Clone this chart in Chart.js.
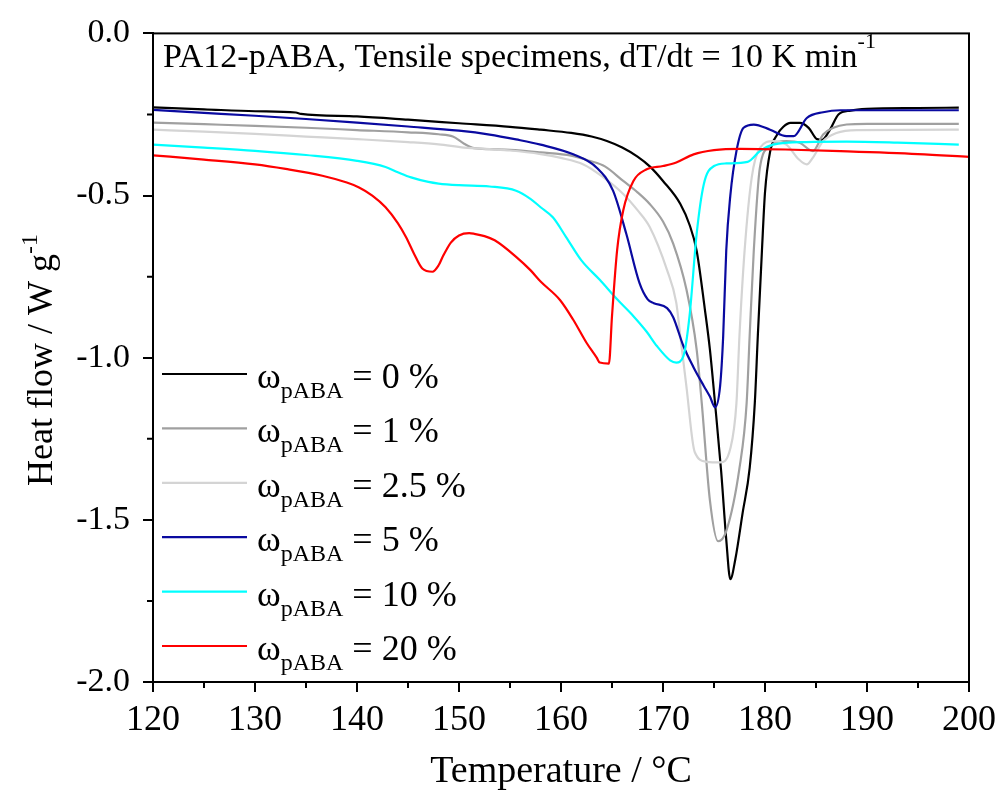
<!DOCTYPE html>
<html>
<head>
<meta charset="utf-8">
<script src="https://cdn.jsdelivr.net/npm/chart.js@4.4.0/dist/chart.umd.min.js"></script>
<style>
  html, body { margin: 0; padding: 0; background: #fff; }
</style>
</head>
<body>
<canvas id="dsc" width="1008" height="798"></canvas>
<script>
const SERIF = '"Liberation Serif", "Times New Roman", serif'

// pABA content of each curve (legend) and line colours
const seriesLabels = ['0', '1', '2.5', '5', '10', '20']
const seriesColors = ['#000000', '#a0a0a0', '#d4d4d4', '#0a0aa0', '#00ffff', '#ff0000']

const xTickValues = [120, 130, 140, 150, 160, 170, 180, 190, 200]
const yTickValues = [0, -0.5, -1.0, -1.5, -2.0]

// 0 %
const temp0 = [120, 125, 130, 134, 134.5, 140, 145, 150, 155, 158, 161, 163, 164.5, 166, 167.5, 168.7, 170, 171.7, 172.6, 173.3, 174.1, 174.6, 175.1, 175.7, 176.2, 176.6, 177.1, 177.8, 178.5, 179.0, 179.3, 179.7, 180.0, 180.5, 181.2, 181.8, 182.5, 183.4, 184.3, 185.1, 185.6, 186.4, 187.2, 188.4, 190, 195, 199]
const flow0 = [-0.228, -0.234, -0.240, -0.244, -0.248, -0.256, -0.266, -0.277, -0.288, -0.297, -0.307, -0.318, -0.332, -0.352, -0.38, -0.41, -0.455, -0.526, -0.59, -0.67, -0.85, -0.975, -1.14, -1.35, -1.56, -1.683, -1.62, -1.48, -1.34, -1.14, -0.93, -0.67, -0.49, -0.365, -0.312, -0.288, -0.276, -0.276, -0.292, -0.326, -0.328, -0.295, -0.250, -0.238, -0.233, -0.230, -0.229]

// 1 %
const temp1 = [120, 125, 130, 135, 140, 145, 148, 149.4, 150.5, 151.5, 153, 155, 158, 161, 162.8, 164.3, 166.1, 167.5, 168.7, 170, 171, 172.3, 173.3, 173.8, 174.6, 175.4, 176.2, 177.5, 178.2, 178.5, 178.9, 179.5, 180.5, 182.1, 183.4, 184.7, 185.7, 186.7, 188, 190, 199]
const flow1 = [-0.275, -0.280, -0.285, -0.291, -0.298, -0.305, -0.311, -0.318, -0.340, -0.354, -0.357, -0.359, -0.367, -0.377, -0.393, -0.41, -0.455, -0.49, -0.526, -0.58, -0.648, -0.79, -0.975, -1.14, -1.44, -1.566, -1.535, -1.34, -1.14, -0.93, -0.67, -0.414, -0.348, -0.332, -0.337, -0.363, -0.312, -0.291, -0.281, -0.279, -0.279]

// 2.5 %
const temp2 = [120, 125, 130, 135, 140, 145, 148, 150.5, 153, 155, 158, 160, 162.2, 164, 166.1, 167.5, 168.7, 170.4, 171.3, 171.7, 172.3, 173.1, 174.3, 175.6, 176.6, 177.2, 177.5, 178.0, 178.7, 179.5, 180.8, 182.1, 183.3, 184.1, 184.7, 185.7, 187, 189, 199]
const flow2 = [-0.297, -0.303, -0.310, -0.318, -0.326, -0.335, -0.342, -0.352, -0.357, -0.361, -0.372, -0.384, -0.404, -0.44, -0.495, -0.545, -0.597, -0.73, -0.83, -0.934, -1.09, -1.29, -1.321, -1.323, -1.28, -1.14, -0.93, -0.67, -0.444, -0.353, -0.332, -0.343, -0.388, -0.404, -0.383, -0.332, -0.307, -0.298, -0.297]

// 5 %
const temp5 = [120, 125, 130, 135, 140, 145, 150, 153, 155.6, 158, 161.2, 163.5, 165.1, 166.4, 167.7, 168.5, 169.1, 170.4, 171, 172, 173, 174, 174.6, 175.1, 175.6, 175.9, 176.2, 176.6, 177.2, 177.9, 178.9, 180.5, 182.1, 182.8, 184.1, 185.7, 187.4, 199]
const flow5 = [-0.236, -0.245, -0.254, -0.264, -0.275, -0.287, -0.300, -0.312, -0.327, -0.343, -0.373, -0.414, -0.485, -0.618, -0.77, -0.82, -0.832, -0.847, -0.875, -0.964, -1.03, -1.087, -1.12, -1.153, -1.087, -0.934, -0.67, -0.50, -0.363, -0.291, -0.281, -0.297, -0.317, -0.317, -0.261, -0.243, -0.237, -0.237]

// 10 %
const temp10 = [120, 125, 130, 135, 140, 142.8, 144, 145.3, 147, 148, 150, 153, 155.6, 157, 158, 159.2, 160.5, 162, 163.8, 165.5, 167.1, 168.4, 169.4, 170.7, 171.3, 172, 172.6, 173.3, 174, 175, 176.2, 178.3, 179.5, 180.8, 184, 188, 193, 199]
const flow10 = [-0.343, -0.352, -0.362, -0.375, -0.393, -0.412, -0.428, -0.444, -0.458, -0.463, -0.468, -0.472, -0.485, -0.51, -0.536, -0.567, -0.628, -0.70, -0.76, -0.82, -0.872, -0.92, -0.964, -1.008, -1.015, -0.995, -0.872, -0.618, -0.465, -0.409, -0.401, -0.396, -0.363, -0.343, -0.335, -0.334, -0.337, -0.343]

// 20 %
const temp20 = [120, 125, 130, 133, 136.6, 139, 140.2, 141.5, 142.8, 144, 144.8, 145.6, 146.4, 147.4, 148, 148.4, 149.2, 150, 151, 151.5, 152.5, 153.5, 155.6, 157, 158, 159.9, 161.2, 162.5, 163.5, 163.8, 164.7, 165.0, 165.5, 166.1, 167.1, 168.4, 170, 171.3, 173, 175, 177.6, 182, 187.4, 195, 200]
const flow20 = [-0.376, -0.389, -0.404, -0.418, -0.439, -0.46, -0.475, -0.50, -0.536, -0.585, -0.628, -0.68, -0.725, -0.735, -0.715, -0.689, -0.645, -0.623, -0.616, -0.618, -0.625, -0.638, -0.689, -0.73, -0.765, -0.822, -0.883, -0.954, -1.0, -1.015, -1.018, -0.872, -0.669, -0.546, -0.455, -0.419, -0.409, -0.398, -0.373, -0.360, -0.356, -0.358, -0.363, -0.372, -0.381]

const temps = [temp0, temp1, temp2, temp5, temp10, temp20]
const flows = [flow0, flow1, flow2, flow5, flow10, flow20]

const datasets = seriesLabels.map((lab, i) => ({
  label: lab,
  data: temps[i].map((t, j) => ({ x: t, y: flows[i][j] })),
  borderColor: seriesColors[i],
  backgroundColor: seriesColors[i],
  borderWidth: 2.2,
  pointRadius: 0,
  cubicInterpolationMode: 'monotone',
  order: seriesLabels.length - i
}))

// draws text pieces side by side (for sub/superscripts)
function drawRuns(ctx, runs, x, y) {
  let cx = x
  for (const r of runs) {
    ctx.font = r.size + 'px ' + SERIF
    ctx.fillText(r.t, cx, y + (r.dy || 0))
    cx += ctx.measureText(r.t).width
  }
  return cx - x
}
function runsWidth(ctx, runs) {
  let w = 0
  for (const r of runs) {
    ctx.font = r.size + 'px ' + SERIF
    w += ctx.measureText(r.t).width
  }
  return w
}

const extras = {
  id: 'extras',
  afterDraw(chart) {
    const { ctx, chartArea: a, scales: { x, y } } = chart
    ctx.save()
    ctx.strokeStyle = '#000'
    ctx.lineWidth = 2
    ctx.strokeRect(a.left, a.top, a.right - a.left, a.bottom - a.top)

    // minor ticks
    ctx.beginPath()
    for (let i = 0; i < xTickValues.length - 1; i++) {
      const px = x.getPixelForValue((xTickValues[i] + xTickValues[i + 1]) / 2)
      ctx.moveTo(px, a.bottom)
      ctx.lineTo(px, a.bottom + 6)
    }
    for (let i = 0; i < yTickValues.length - 1; i++) {
      const py = y.getPixelForValue((yTickValues[i] + yTickValues[i + 1]) / 2)
      ctx.moveTo(a.left, py)
      ctx.lineTo(a.left - 6, py)
    }
    ctx.stroke()

    ctx.fillStyle = '#000'
    ctx.textBaseline = 'alphabetic'
    ctx.textAlign = 'left'

    // header inside the plot
    drawRuns(ctx, [
      { t: 'PA12-pABA, Tensile specimens, dT/dt = 10 K min', size: 34 },
      { t: '-1', size: 22, dy: -19 }
    ], 163, 67)

    // y axis title (rotated)
    const yTitle = [
      { t: 'Heat flow / W g', size: 36 },
      { t: '-1', size: 24, dy: -15 }
    ]
    ctx.save()
    ctx.translate(52, 360)
    ctx.rotate(-Math.PI / 2)
    drawRuns(ctx, yTitle, -runsWidth(ctx, yTitle) / 2, 0)
    ctx.restore()

    // legend
    seriesLabels.forEach((lab, i) => {
      const ly = 374 + i * 54.4
      ctx.strokeStyle = seriesColors[i]
      ctx.lineWidth = 2.2
      ctx.beginPath()
      ctx.moveTo(162, ly)
      ctx.lineTo(247, ly)
      ctx.stroke()
      ctx.fillStyle = '#000'
      drawRuns(ctx, [
        { t: 'ω', size: 36 },
        { t: 'pABA', size: 24, dy: 10 },
        { t: ' = ' + lab + ' %', size: 36 }
      ], 257, ly + 14)
    })
    ctx.restore()
  }
}

new Chart(document.getElementById('dsc'), {
  type: 'line',
  data: { datasets },
  plugins: [extras],
  options: {
    responsive: false,
    animation: false,
    layout: { padding: { left: 0, right: 39, top: 28, bottom: 0 } },
    plugins: { legend: { display: false }, tooltip: { enabled: false } },
    scales: {
      x: {
        type: 'linear',
        min: 120,
        max: 200,
        afterBuildTicks: s => { s.ticks = xTickValues.map(v => ({ value: v })) },
        afterFit: s => { s.height = 116 },
        grid: { drawOnChartArea: false, drawTicks: true, tickLength: 10, color: '#000', lineWidth: 2 },
        border: { display: true, color: '#000', width: 2 },
        ticks: {
          font: { family: SERIF, size: 36 },
          color: '#000',
          padding: 7,
          maxRotation: 0,
          autoSkip: false
        },
        title: {
          display: true,
          text: 'Temperature / °C',
          font: { family: SERIF, size: 38 },
          color: '#000',
          padding: { top: 0, bottom: 3 }
        }
      },
      y: {
        type: 'linear',
        min: -2,
        max: 0,
        afterBuildTicks: s => { s.ticks = yTickValues.map(v => ({ value: v })) },
        afterFit: s => { s.width = 153 },
        grid: { drawOnChartArea: false, drawTicks: true, tickLength: 10, color: '#000', lineWidth: 2 },
        border: { display: true, color: '#000', width: 2 },
        ticks: {
          font: { family: SERIF, size: 34 },
          color: '#000',
          padding: 13,
          autoSkip: false,
          callback: v => v.toFixed(1)
        }
      }
    }
  }
})
</script>
</body>
</html>
